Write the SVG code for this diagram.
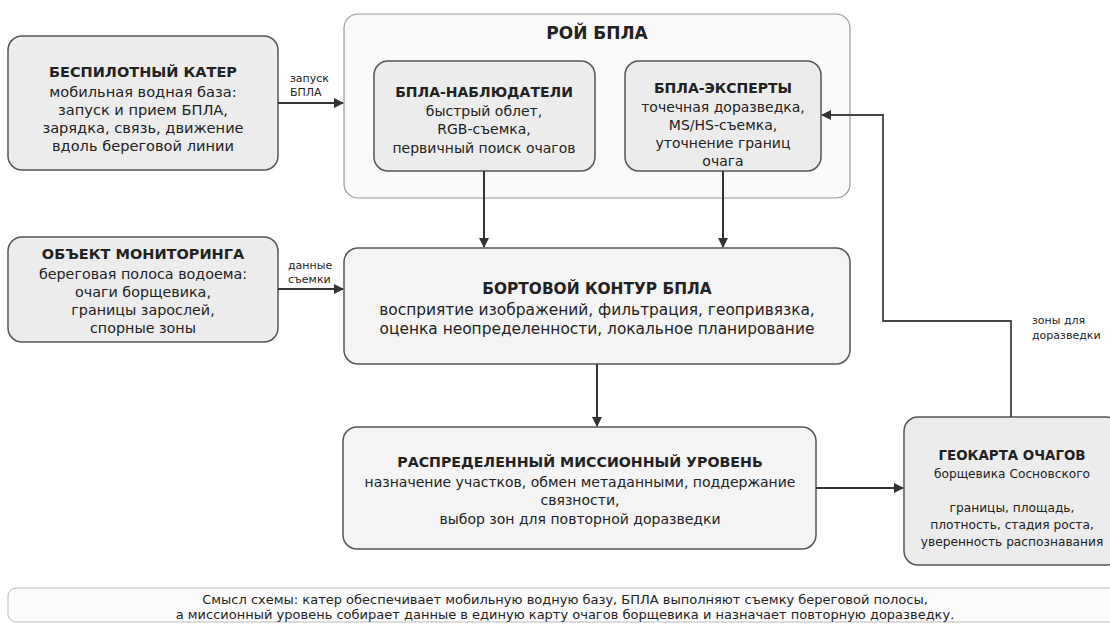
<svg xmlns="http://www.w3.org/2000/svg" width="1110" height="626" viewBox="0 0 1110 626">
<style>
text{font-family:"DejaVu Sans",sans-serif;fill:#222;text-anchor:middle}
.t{font-weight:bold;font-size:14.5px}
.tb{font-weight:bold;font-size:15.4px}
.b{font-size:14.6px}
.b2{font-size:14px}
.s{font-size:12.2px}
.l{font-size:11px;text-anchor:start}
.c{font-size:13px}
.n{fill:#ececec;stroke:#555;stroke-width:1.5}
.n2{fill:#f4f4f4;stroke:#555;stroke-width:1.5}
.e{fill:none;stroke:#333;stroke-width:2}
</style>
<defs>
<marker id="a" viewBox="0 0 10 10" refX="9" refY="5" markerWidth="10" markerHeight="10" markerUnits="userSpaceOnUse" orient="auto">
<path d="M0,0 L10,5 L0,10 Z" fill="#333"/>
</marker>
</defs>
<rect width="1110" height="626" fill="#fff"/>
<g id="swarm">
<rect x="344" y="14" width="506" height="184" rx="14" fill="#fafafa" stroke="#999" stroke-width="1.2"/>
<text x="597" y="39" style="font-weight:bold;font-size:17px">РОЙ БПЛА</text>
</g>
<g id="boat">
<rect class="n" x="8" y="36" width="270" height="134" rx="14"/>
<text class="t" x="143" y="77">БЕСПИЛОТНЫЙ КАТЕР</text>
<text class="b" x="143" y="97">мобильная водная база:</text>
<text class="b" x="143" y="115">запуск и прием БПЛА,</text>
<text class="b" x="143" y="133">зарядка, связь, движение</text>
<text class="b" x="143" y="151">вдоль береговой линии</text>
</g>
<g id="observers">
<rect class="n" x="374" y="61" width="221" height="110" rx="14"/>
<text class="t" x="484" y="97" style="font-size:14px">БПЛА-НАБЛЮДАТЕЛИ</text>
<text class="b2" x="484" y="116">быстрый облет,</text>
<text class="b2" x="484" y="134">RGB-съемка,</text>
<text class="b2" x="484" y="153">первичный поиск очагов</text>
</g>
<g id="experts">
<rect class="n" x="625" y="61" width="196" height="110" rx="14"/>
<text class="t" x="723" y="93" style="font-size:14px">БПЛА-ЭКСПЕРТЫ</text>
<text class="b2" x="723" y="112">точечная доразведка,</text>
<text class="b2" x="723" y="130">MS/HS-съемка,</text>
<text class="b2" x="723" y="148">уточнение границ</text>
<text class="b2" x="723" y="166">очага</text>
</g>
<g id="object">
<rect class="n" x="8" y="237" width="270" height="105" rx="14"/>
<text class="t" x="143" y="259">ОБЪЕКТ МОНИТОРИНГА</text>
<text class="b" x="143" y="279" style="font-size:14.3px">береговая полоса водоема:</text>
<text class="b" x="143" y="297" style="font-size:14.3px">очаги борщевика,</text>
<text class="b" x="143" y="315" style="font-size:14.3px">границы зарослей,</text>
<text class="b" x="143" y="333" style="font-size:14.3px">спорные зоны</text>
</g>
<g id="onboard">
<rect class="n2" x="344" y="248" width="506" height="116" rx="14"/>
<text class="tb" x="597" y="294">БОРТОВОЙ КОНТУР БПЛА</text>
<text class="b" x="597" y="315" style="font-size:15.4px">восприятие изображений, фильтрация, геопривязка,</text>
<text class="b" x="597" y="334" style="font-size:15.4px">оценка неопределенности, локальное планирование</text>
</g>
<g id="mission">
<rect class="n2" x="343" y="427" width="473" height="122" rx="14"/>
<text class="tb" x="580" y="467" style="font-size:14.2px">РАСПРЕДЕЛЕННЫЙ МИССИОННЫЙ УРОВЕНЬ</text>
<text class="b2" x="580" y="487">назначение участков, обмен метаданными, поддержание</text>
<text class="b2" x="580" y="505">связности,</text>
<text class="b2" x="580" y="524">выбор зон для повторной доразведки</text>
</g>
<g id="geomap">
<rect class="n" x="904" y="417" width="216" height="148" rx="14"/>
<text class="t" x="1012" y="460" style="font-size:13.4px">ГЕОКАРТА ОЧАГОВ</text>
<text class="s" x="1012" y="478">борщевика Сосновского</text>
<text class="s" x="1012" y="512">границы, площадь,</text>
<text class="s" x="1012" y="529">плотность, стадия роста,</text>
<text class="s" x="1012" y="546">уверенность распознавания</text>
</g>
<g id="connectors">
<path class="e" d="M278,103 H343" marker-end="url(#a)"/>
<path class="e" d="M278,289 H343" marker-end="url(#a)"/>
<path class="e" d="M484,171 V247" marker-end="url(#a)"/>
<path class="e" d="M723,171 V247" marker-end="url(#a)"/>
<path class="e" d="M597,364 V426" marker-end="url(#a)"/>
<path class="e" d="M816,488 H903" marker-end="url(#a)"/>
<path class="e" d="M1011,417 V321 H883 V115 H822" marker-end="url(#a)" style="stroke:#444;stroke-width:1.8"/>
<text class="l" x="290" y="82">запуск</text>
<text class="l" x="290" y="96">БПЛА</text>
<text class="l" x="288" y="269">данные</text>
<text class="l" x="288" y="283">съемки</text>
<text class="l" x="1032" y="324">зоны для</text>
<text class="l" x="1032" y="339">доразведки</text>
</g>
<g id="caption">
<rect x="8" y="588" width="1120" height="34" rx="8" fill="#fcfcfc" stroke="#bbb" stroke-width="1"/>
<text class="c" x="565" y="604">Смысл схемы: катер обеспечивает мобильную водную базу, БПЛА выполняют съемку береговой полосы,</text>
<text class="c" x="565" y="619">а миссионный уровень собирает данные в единую карту очагов борщевика и назначает повторную доразведку.</text>
</g>
</svg>
